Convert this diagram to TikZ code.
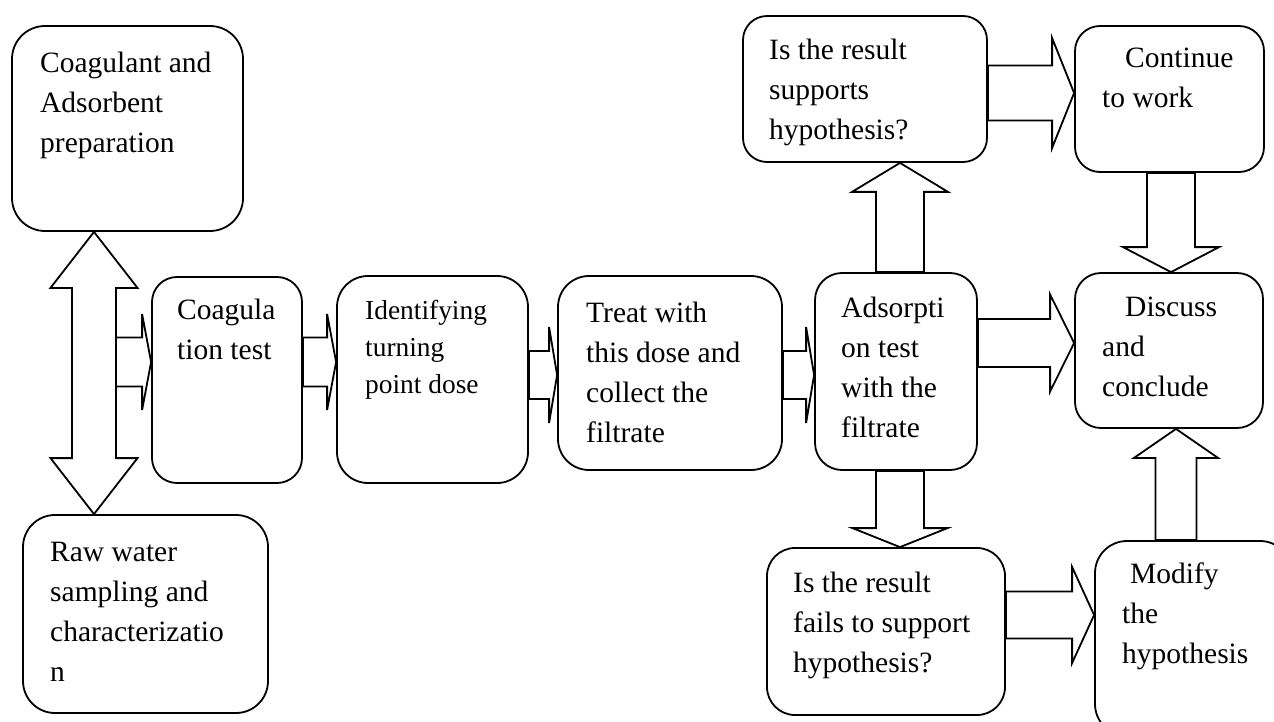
\documentclass[tikz,border=0pt]{standalone}
\usepackage{fontspec}
\setmainfont{Liberation Serif}
\usetikzlibrary{calc}

\tikzset{
	shaftw/.store in=\shaftw,
	headw/.store in=\headw,
	headl/.store in=\headl,
	stage/.style={draw, line width=1.8pt, rounded corners=#1, inner sep=0pt},
	stagetext/.style={anchor=north west, inner sep=0pt, align=left,
		font=\fontsize{29.5}{40}\selectfont},
	fat/.style n args={3}{line width=1.8pt, shaftw=#1, headw=#2, headl=#3,
		to path={($(\tikztotarget)!\headl!(\tikztostart)$) coordinate (fatbase)
			($(\tikztostart)!\shaftw!90:(\tikztotarget)$)
			-- ($(fatbase)!\shaftw!90:(\tikztotarget)$)
			-- ($(fatbase)!\headw!90:(\tikztotarget)$)
			-- (\tikztotarget)
			-- ($(fatbase)!\headw!-90:(\tikztotarget)$)
			-- ($(fatbase)!\shaftw!-90:(\tikztotarget)$)
			-- ($(\tikztostart)!\shaftw!-90:(\tikztotarget)$)
			-- cycle}},
	fatboth/.style n args={3}{line width=1.8pt, shaftw=#1, headw=#2, headl=#3,
		to path={($(\tikztostart)!\headl!(\tikztotarget)$) coordinate (fatbaseA)
			($(\tikztotarget)!\headl!(\tikztostart)$) coordinate (fatbaseB)
			(\tikztostart)
			-- ($(fatbaseA)!\headw!90:(\tikztotarget)$)
			-- ($(fatbaseA)!\shaftw!90:(\tikztotarget)$)
			-- ($(fatbaseB)!\shaftw!90:(\tikztotarget)$)
			-- ($(fatbaseB)!\headw!90:(\tikztotarget)$)
			-- (\tikztotarget)
			-- ($(fatbaseB)!\headw!-90:(\tikztotarget)$)
			-- ($(fatbaseB)!\shaftw!-90:(\tikztotarget)$)
			-- ($(fatbaseA)!\shaftw!-90:(\tikztotarget)$)
			-- ($(fatbaseA)!\headw!-90:(\tikztotarget)$)
			-- cycle}}
}

\begin{document}
\begin{tikzpicture}[x=1pt,y=-1pt]
	\useasboundingbox (0,0) rectangle (1274,722);
	\clip (0,0) rectangle (1274,722);

	\node[stage=33pt, minimum width=231pt, minimum height=205pt] (prep) at (127.5,128.5) {};
	\node[stage=32pt, minimum width=245pt, minimum height=198pt] (raw) at (145.5,614) {};
	\node[stage=25pt, minimum width=150pt, minimum height=206pt] (coag) at (227,380) {};
	\node[stage=31pt, minimum width=191pt, minimum height=207pt] (ident) at (432.5,379.5) {};
	\node[stage=31pt, minimum width=224pt, minimum height=194pt] (treat) at (670,373) {};
	\node[stage=27pt, minimum width=162pt, minimum height=197pt] (adsorp) at (896,371.5) {};
	\node[stage=24pt, minimum width=244pt, minimum height=146pt] (supports) at (865,89) {};
	\node[stage=25pt, minimum width=189pt, minimum height=146pt] (continue) at (1169.5,99) {};
	\node[stage=26pt, minimum width=188pt, minimum height=155pt] (discuss) at (1169,350.5) {};
	\node[stage=28pt, minimum width=238pt, minimum height=167pt] (fails) at (886,631.5) {};
	\node[stage=32pt, minimum width=197pt, minimum height=195pt] (modify) at (1193.5,638.5) {};

	\node[stagetext] (prep text) at (40,52) {Coagulant and\\Adsorbent\\preparation};
	\node[stagetext] (raw text) at (50,542) {Raw water\\sampling and\\characterizatio\\n};
	\node[stagetext] (coag text) at (177,299) {Coagula\\tion test};
	\node[stagetext, font=\fontsize{27.4}{36.7}\selectfont] (ident text) at (365,300.3) {Identifying\\turning\\point dose};
	\node[stagetext] (treat text) at (586,302) {Treat with\\this dose and\\collect the\\filtrate};
	\node[stagetext] (adsorp text) at (841,297) {Adsorpti\\on test\\with the\\filtrate};
	\node[stagetext] (supports text) at (769,39) {Is the result\\supports\\hypothesis?};
	\node[stagetext] (continue text) at (1102,48) {\hspace{23pt}Continue\\to work};
	\node[stagetext] (discuss text) at (1102,297) {\hspace{23pt}Discuss\\and\\conclude};
	\node[stagetext] (fails text) at (793,572) {Is the result\\fails to support\\hypothesis?};
	\node[stagetext] (modify text) at (1122,563) {\hspace{8pt}Modify\\the\\hypothesis};

	\coordinate (dblx) at (94,0);
	\coordinate (dblshaft) at (116,362);
	\coordinate (rowA) at (0,362);
	\coordinate (rowB) at (0,375);
	\coordinate (rowC) at (0,343);
	\coordinate (rowD) at (0,93);
	\coordinate (rowE) at (0,615);
	\coordinate (colA) at (900,0);
	\coordinate (colB) at (1171,0);
	\coordinate (colC) at (1176,0);

	\draw[fatboth={22pt}{43.5pt}{56pt}] (prep.south -| dblx) to (raw.north -| dblx);
	\draw[fat={24.5pt}{48pt}{9pt}] (dblshaft) to (coag.west |- dblshaft);
	\draw[fat={24.5pt}{48pt}{9pt}] (coag.east |- rowA) to (ident.west |- rowA);
	\draw[fat={24pt}{48pt}{8pt}] (ident.east |- rowB) to (treat.west |- rowB);
	\draw[fat={24pt}{48pt}{8pt}] (treat.east |- rowB) to (adsorp.west |- rowB);
	\draw[fat={24pt}{48.5pt}{24pt}] (adsorp.east |- rowC) to (discuss.west |- rowC);
	\draw[fat={27.5pt}{55pt}{22pt}] (supports.east |- rowD) to (continue.west |- rowD);
	\draw[fat={23.5pt}{48pt}{22pt}] (fails.east |- rowE) to (modify.west |- rowE);
	\draw[fat={24pt}{48pt}{29pt}] (adsorp.north -| colA) to (supports.south -| colA);
	\draw[fat={24pt}{47.5pt}{19pt}] (adsorp.south -| colA) to (fails.north -| colA);
	\draw[fat={24pt}{48pt}{25pt}] (continue.south -| colB) to (discuss.north -| colB);
	\draw[fat={20.5pt}{42pt}{29pt}] (modify.north -| colC) to (discuss.south -| colC);
\end{tikzpicture}
\end{document}
